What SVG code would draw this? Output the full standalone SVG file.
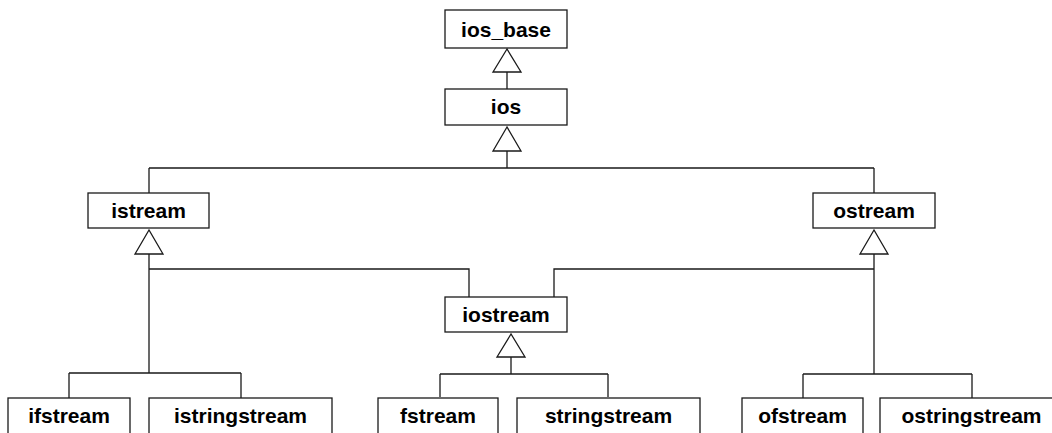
<svg xmlns="http://www.w3.org/2000/svg" width="1052" height="433" viewBox="0 0 1052 433">
<style>
.box{fill:#fff;stroke:#1a1a1a;stroke-width:1.3}
.lbl{font-family:"Liberation Sans",Arial,Helvetica,sans-serif;font-weight:bold;font-size:21px;fill:#000;text-anchor:middle}
.ln{fill:none;stroke:#1a1a1a;stroke-width:1.3}
.tri{fill:#fff;stroke:#1a1a1a;stroke-width:1.3}
</style>
<rect width="1052" height="433" fill="#fff"/>
<g id="connectors">
<path class="ln" d="M507 72V89"/>
<path class="ln" d="M507 151V168M149 168H874M149 168V193M874 168V193"/>
<path class="ln" d="M149 254V373M149 269H469V297M69 373H241M69 373V398M241 373V398"/>
<path class="ln" d="M874 254V374M874 269H554V297M803 374H972M803 374V398M972 374V398"/>
<path class="ln" d="M511 357V374M440 374H608M440 374V397M608 374V397"/>
<polygon class="tri" points="507,49 493,72 521,72"/>
<polygon class="tri" points="507,127 493,151 521,151"/>
<polygon class="tri" points="149,230 135,254 163,254"/>
<polygon class="tri" points="874,230 860,254 888,254"/>
<polygon class="tri" points="511,334 497,357 525,357"/>
</g>
<g id="ios_base"><rect class="box" x="445" y="10" width="122" height="38"/><text class="lbl" x="506" y="37">ios_base</text></g>
<g id="ios"><rect class="box" x="445" y="89" width="122" height="36"/><text class="lbl" x="506" y="114">ios</text></g>
<g id="istream"><rect class="box" x="88" y="193" width="121" height="35"/><text class="lbl" x="148.5" y="218">istream</text></g>
<g id="ostream"><rect class="box" x="813" y="193" width="122" height="35"/><text class="lbl" x="874" y="218">ostream</text></g>
<g id="iostream"><rect class="box" x="445" y="297" width="122" height="35"/><text class="lbl" x="506" y="322">iostream</text></g>
<g id="ifstream"><rect class="box" x="8" y="398" width="122" height="37"/><text class="lbl" x="69" y="423">ifstream</text></g>
<g id="istringstream"><rect class="box" x="149" y="398" width="183" height="37"/><text class="lbl" x="240.5" y="423">istringstream</text></g>
<g id="fstream"><rect class="box" x="378" y="398" width="120" height="37"/><text class="lbl" x="438" y="423">fstream</text></g>
<g id="stringstream"><rect class="box" x="517" y="398" width="183" height="37"/><text class="lbl" x="608.5" y="423">stringstream</text></g>
<g id="ofstream"><rect class="box" x="742" y="398" width="121" height="37"/><text class="lbl" x="802.5" y="423">ofstream</text></g>
<g id="ostringstream"><rect class="box" x="880" y="398" width="183" height="37"/><text class="lbl" x="971.5" y="423">ostringstream</text></g>
</svg>
